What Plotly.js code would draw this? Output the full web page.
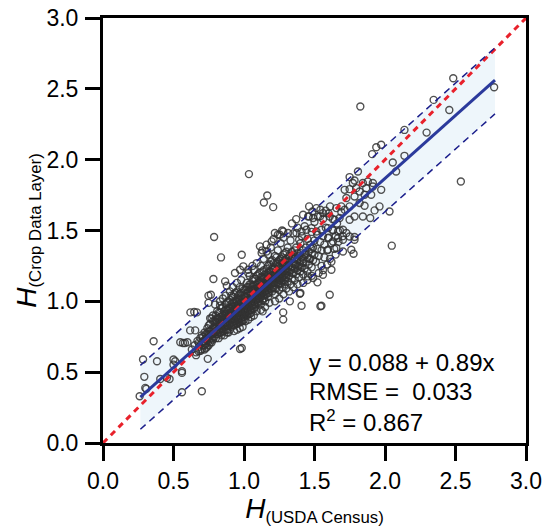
<!DOCTYPE html>
<html>
<head>
<meta charset="utf-8">
<script src="https://cdn.plot.ly/plotly-3.0.1.min.js"></script>
<style>html,body{margin:0;padding:0;background:#fff;}#chart{width:547px;height:527px;}</style>
</head>
<body>
<div id="chart"></div>
<script>
// ---- data ----
// 1:1 reference line
const oneToOneX = [0, 3];
const oneToOneY = [0, 3];
// fitted regression line y = 0.088 + 0.89x (end points)
const fitX = [0.265, 2.78];
const fitY = [0.324, 2.562];
// prediction band (dashed lines)
const bandX = [0.265, 2.78];
const bandUpper = [0.548, 2.79];
const bandLower = [0.097, 2.323];
// scattered outlying points [H_census, H_cdl]
const outerPts = [
  [0.26,0.33],[0.284,0.589],[0.293,0.467],[0.307,0.382],[0.30,0.389],[0.359,0.718],[0.383,0.577],
  [0.406,0.452],[0.454,0.46],[0.472,0.452],[0.50,0.553],[0.50,0.589],[0.512,0.577],[0.548,0.711],
  [0.56,0.506],[0.56,0.495],[0.56,0.358],[0.567,0.706],[0.581,0.706],[0.599,0.711],[0.618,0.795],
  [0.654,0.795],[0.62,0.922],[0.647,0.925],[0.666,0.922],[0.677,0.647],[0.701,0.365],[0.743,0.594],
  [0.748,1.040],[0.748,0.989],[0.765,1.047],[0.795,0.977],[0.830,1.000],[0.783,1.158],[0.866,1.141],
  [0.878,1.110],[0.936,1.200],[0.972,1.223],[0.995,1.247],[1.030,1.223],[0.788,1.454],[0.837,1.310],
  [0.984,1.329],[1.113,1.388],[1.125,1.341],[1.160,1.352],[1.196,1.423],[1.219,1.482],[1.254,1.470],
  [1.278,1.493],[1.313,1.482],[1.372,1.482],[1.391,1.435],[1.035,1.898],[1.165,1.747],[1.141,1.698],
  [1.207,1.665],[0.984,0.671],[0.972,0.664],[1.132,0.929],[1.278,0.871],[1.278,0.922],[1.325,1.000],
  [1.408,0.969],[1.396,1.054],[1.400,1.059],[1.549,0.969],[1.542,0.965],[1.608,1.047],[1.454,1.176],
  [1.490,1.165],[1.521,1.134],[1.560,1.188],[1.620,1.223],[1.777,1.336],[2.048,1.393],
  [1.462,1.670],[1.485,1.634],[1.514,1.658],[1.542,1.646],[1.561,1.623],[1.655,1.658],[1.690,1.670],
  [1.714,1.646],[1.419,1.611],[1.455,1.599],[1.490,1.588],[1.525,1.599],[1.561,1.581],[1.608,1.599],
  [1.643,1.576],[1.678,1.588],[1.408,1.493],[1.443,1.505],[1.478,1.517],[1.514,1.493],[1.549,1.505],
  [1.596,1.517],[1.631,1.505],[1.667,1.493],[1.702,1.505],[1.726,1.482],[1.596,1.447],[1.631,1.423],
  [1.667,1.447],[1.702,1.435],[1.749,1.458],[1.784,1.435],[1.596,1.364],[1.655,1.376],[1.702,1.352],
  [1.761,1.364],[1.749,1.877],[1.808,1.916],[2.295,2.191],[2.138,2.210],[1.973,2.105],[1.938,2.088],
  [1.909,2.039],[2.138,2.027],[2.055,1.980],[2.079,1.916],[1.784,1.853],[1.843,1.835],[1.878,1.846],
  [1.914,1.835],[1.772,1.835],[1.714,1.787],[1.749,1.792],[1.796,1.799],[1.820,1.775],[1.867,1.799],
  [1.914,1.811],[1.973,1.787],[1.726,1.729],[1.784,1.740],[1.855,1.752],[1.902,1.752],[1.749,1.670],
  [1.820,1.694],[1.855,1.675],[1.961,1.670],[2.032,1.634],[1.926,1.642],[1.895,1.588],[1.784,1.599],
  [1.749,1.576],[1.843,1.599],[1.784,1.454],[2.484,2.575],[2.345,2.422],[2.456,2.351],[2.774,2.511],
  [1.825,2.375],[2.538,1.846]
];
// dense core of points [H_census, H_cdl]
const corePts = [
  [0.63,0.66],[0.65,0.69],[0.66,0.64],[0.67,0.72],[0.68,0.68],[0.69,0.74],[0.70,0.66],[0.70,0.71],[0.66,0.62],
  [0.71,0.69],[0.71,0.75],[0.72,0.72],[0.72,0.78],[0.73,0.70],[0.73,0.74],[0.74,0.77],[0.74,0.81],[0.75,0.72],
  [0.75,0.76],[0.76,0.79],[0.76,0.84],[0.77,0.74],[0.77,0.80],[0.78,0.77],[0.78,0.86],[0.79,0.82],[0.79,0.75],
  [0.80,0.79],[0.80,0.85],[0.72,0.66],[0.74,0.68],[0.76,0.71],[0.78,0.73],[0.80,0.90],[0.77,0.88],[0.75,0.83],
  [0.81,0.77],[0.81,0.82],[0.81,0.88],[0.82,0.80],[0.82,0.85],[0.82,0.92],[0.83,0.78],[0.83,0.83],[0.83,0.89],
  [0.84,0.81],[0.84,0.86],[0.84,0.95],[0.85,0.79],[0.85,0.84],[0.85,0.90],[0.86,0.82],[0.86,0.87],[0.86,0.93],
  [0.87,0.80],[0.87,0.85],[0.87,0.91],[0.87,0.98],[0.88,0.83],[0.88,0.88],[0.88,0.94],[0.89,0.78],[0.89,0.86],
  [0.89,0.91],[0.89,1.00],[0.90,0.84],[0.90,0.89],[0.90,0.95],[0.82,0.74],[0.84,0.76],[0.86,0.76],[0.88,0.80],
  [0.83,0.97],[0.85,1.02],[0.87,1.04],
  [0.91,0.82],[0.91,0.87],[0.91,0.92],[0.91,0.98],[0.92,0.85],[0.92,0.90],[0.92,0.96],[0.92,1.03],[0.93,0.83],
  [0.93,0.88],[0.93,0.93],[0.93,0.99],[0.94,0.86],[0.94,0.91],[0.94,0.97],[0.94,1.06],[0.95,0.84],[0.95,0.89],
  [0.95,0.94],[0.95,1.00],[0.96,0.87],[0.96,0.92],[0.96,0.98],[0.96,1.04],[0.97,0.85],[0.97,0.90],[0.97,0.95],
  [0.97,1.01],[0.97,1.10],[0.98,0.88],[0.98,0.93],[0.98,0.99],[0.98,1.06],[0.99,0.86],[0.99,0.91],[0.99,0.96],
  [0.99,1.02],[1.00,0.89],[1.00,0.94],[1.00,1.00],[1.00,1.08],[0.93,0.79],[0.95,0.80],[0.97,0.81],[0.99,0.82],
  [0.92,1.10],[0.95,1.13],[0.98,1.15],[0.90,1.07],
  [1.01,0.92],[1.01,0.97],[1.01,1.03],[1.02,0.90],[1.02,0.95],[1.02,1.00],[1.02,1.06],[1.02,1.13],[1.03,0.93],
  [1.03,0.98],[1.03,1.04],[1.03,1.10],[1.04,0.91],[1.04,0.96],[1.04,1.01],[1.04,1.07],[1.04,1.18],[1.05,0.94],
  [1.05,0.99],[1.05,1.05],[1.05,1.12],[1.06,0.97],[1.06,1.02],[1.06,1.08],[1.06,1.15],[1.07,0.95],[1.07,1.00],
  [1.07,1.05],[1.07,1.11],[1.07,1.22],[1.08,0.98],[1.08,1.03],[1.08,1.09],[1.08,1.16],[1.09,1.01],[1.09,1.06],
  [1.09,1.12],[1.10,0.99],[1.10,1.04],[1.10,1.10],[1.10,1.19],[1.01,0.86],[1.03,0.87],[1.05,0.89],[1.07,0.90],
  [1.09,0.93],[1.03,1.20],[1.06,1.25],[1.09,1.27],
  [1.11,1.02],[1.11,1.07],[1.11,1.14],[1.12,0.98],[1.12,1.05],[1.12,1.10],[1.12,1.17],[1.12,1.25],[1.13,1.01],
  [1.13,1.08],[1.13,1.13],[1.13,1.21],[1.14,1.04],[1.14,1.10],[1.14,1.16],[1.14,1.30],[1.15,1.00],[1.15,1.07],
  [1.15,1.12],[1.15,1.19],[1.16,1.05],[1.16,1.10],[1.16,1.15],[1.16,1.23],[1.17,1.03],[1.17,1.08],[1.17,1.14],
  [1.17,1.20],[1.17,1.33],[1.18,1.06],[1.18,1.12],[1.18,1.17],[1.18,1.26],[1.19,1.09],[1.19,1.15],[1.19,1.21],
  [1.20,1.07],[1.20,1.13],[1.20,1.18],[1.20,1.29],[1.12,0.94],[1.15,0.96],[1.18,0.99],[1.13,1.36],[1.16,1.40],
  [1.19,1.38],
  [1.21,1.10],[1.21,1.16],[1.21,1.23],[1.22,1.05],[1.22,1.13],[1.22,1.19],[1.22,1.32],[1.23,1.09],[1.23,1.16],
  [1.23,1.22],[1.23,1.27],[1.24,1.12],[1.24,1.18],[1.24,1.25],[1.24,1.36],[1.25,1.08],[1.25,1.15],[1.25,1.21],
  [1.25,1.29],[1.26,1.13],[1.26,1.19],[1.26,1.24],[1.26,1.41],[1.27,1.10],[1.27,1.17],[1.27,1.23],[1.27,1.31],
  [1.28,1.15],[1.28,1.21],[1.28,1.27],[1.28,1.45],[1.29,1.12],[1.29,1.19],[1.29,1.25],[1.29,1.34],[1.30,1.17],
  [1.30,1.23],[1.30,1.30],[1.22,1.00],[1.25,1.02],[1.28,1.05],[1.30,1.09],[1.21,1.44],[1.24,1.47],[1.27,1.50],
  [1.31,1.14],[1.31,1.21],[1.31,1.28],[1.31,1.38],[1.32,1.18],[1.32,1.25],[1.32,1.32],[1.33,1.12],[1.33,1.22],
  [1.33,1.29],[1.33,1.43],[1.34,1.16],[1.34,1.24],[1.34,1.35],[1.35,1.20],[1.35,1.27],[1.35,1.33],[1.35,1.48],
  [1.36,1.15],[1.36,1.23],[1.36,1.30],[1.37,1.19],[1.37,1.26],[1.37,1.38],[1.38,1.22],[1.38,1.29],[1.38,1.34],
  [1.38,1.52],[1.39,1.17],[1.39,1.25],[1.39,1.32],[1.40,1.21],[1.40,1.28],[1.40,1.41],[1.32,1.07],[1.35,1.10],
  [1.38,1.12],[1.34,1.55],[1.37,1.58],
  [1.41,1.24],[1.41,1.31],[1.41,1.46],[1.42,1.19],[1.42,1.27],[1.42,1.36],[1.43,1.23],[1.43,1.33],[1.43,1.53],
  [1.44,1.28],[1.44,1.38],[1.45,1.21],[1.45,1.31],[1.45,1.44],[1.46,1.26],[1.46,1.35],[1.46,1.60],[1.47,1.30],
  [1.47,1.40],[1.48,1.24],[1.48,1.34],[1.48,1.49],[1.49,1.29],[1.49,1.38],[1.50,1.33],[1.50,1.43],[1.42,1.13],
  [1.45,1.15],[1.48,1.18],[1.50,1.56],
  [1.51,1.28],[1.52,1.37],[1.52,1.47],[1.53,1.32],[1.54,1.42],[1.54,1.60],[1.55,1.25],[1.55,1.36],[1.56,1.46],
  [1.57,1.31],[1.57,1.40],[1.58,1.52],[1.59,1.36],[1.60,1.45],[1.60,1.62],[1.61,1.30],[1.62,1.41],[1.63,1.50],
  [1.63,1.58],[1.64,1.37],[1.65,1.46],[1.66,1.55],[1.67,1.42],[1.68,1.50],[1.69,1.63],[1.70,1.46],[1.53,1.20],
  [1.56,1.22],[1.59,1.26],[1.62,1.28],[1.65,1.33],[1.58,1.64],[1.61,1.67]
];
// additional points in the darkest part of the cloud
const densePts = [
  [0.68,0.71],[0.69,0.65],[0.70,0.76],[0.71,0.72],[0.72,0.69],[0.73,0.77],[0.73,0.67],[0.74,0.73],[0.75,0.79],
  [0.75,0.69],[0.76,0.75],[0.76,0.88],[0.77,0.71],[0.77,0.77],[0.78,0.81],[0.78,0.90],[0.79,0.78],[0.79,0.86],
  [0.80,0.74],[0.80,0.82],[0.80,0.87],[0.81,0.79],[0.81,0.85],[0.81,0.93],[0.82,0.77],[0.82,0.83],[0.82,0.88],
  [0.83,0.80],[0.83,0.86],[0.83,0.92],[0.84,0.78],[0.84,0.84],[0.84,0.89],[0.85,0.81],[0.85,0.87],[0.85,0.96],
  [0.86,0.79],[0.86,0.85],[0.86,0.90],[0.87,0.83],[0.87,0.88],[0.87,0.94],[0.88,0.78],[0.88,0.85],[0.88,0.91],
  [0.88,0.99],[0.89,0.83],[0.89,0.89],[0.89,0.95],[0.90,0.80],[0.90,0.87],[0.90,0.92],[0.90,1.01],[0.91,0.85],
  [0.91,0.90],[0.91,0.95],[0.91,1.04],[0.92,0.83],[0.92,0.88],[0.92,0.93],[0.92,0.99],[0.93,0.86],[0.93,0.91],
  [0.93,0.96],[0.93,1.05],[0.94,0.84],[0.94,0.89],[0.94,0.94],[0.94,1.00],[0.95,0.87],[0.95,0.92],[0.95,0.97],
  [0.95,1.07],[0.96,0.85],[0.96,0.90],[0.96,0.95],[0.96,1.01],[0.97,0.88],[0.97,0.93],[0.97,0.98],[0.97,1.05],
  [0.98,0.86],[0.98,0.91],[0.98,0.96],[0.98,1.02],[0.99,0.89],[0.99,0.94],[0.99,0.99],[0.99,1.09],[1.00,0.87],
  [1.00,0.92],[1.00,0.97],[1.00,1.04],[1.01,0.90],[1.01,0.95],[1.01,1.00],[1.01,1.08],[1.02,0.93],[1.02,0.98],
  [1.02,1.03],[1.02,1.10],[1.03,0.91],[1.03,0.96],[1.03,1.01],[1.03,1.07],[1.04,0.94],[1.04,0.99],[1.04,1.04],
  [1.04,1.12],[1.05,0.92],[1.05,0.97],[1.05,1.02],[1.05,1.08],[1.06,0.95],[1.06,1.00],[1.06,1.05],[1.06,1.11],
  [1.07,0.98],[1.07,1.03],[1.07,1.08],[1.07,1.16],[1.08,0.96],[1.08,1.01],[1.08,1.06],[1.08,1.12],[1.09,0.99],
  [1.09,1.04],[1.09,1.09],[1.09,1.18],[1.10,1.02],[1.10,1.07],[1.10,1.13],[1.11,1.00],[1.11,1.05],[1.11,1.10],
  [1.11,1.20],[1.12,1.03],[1.12,1.08],[1.12,1.14],[1.13,1.05],[1.13,1.11],[1.13,1.17],[1.14,1.02],[1.14,1.07],
  [1.14,1.13],[1.14,1.22],[1.15,1.05],[1.15,1.10],[1.15,1.16],[1.16,1.08],[1.16,1.13],[1.16,1.19],[1.17,1.06],
  [1.17,1.11],[1.17,1.17],[1.17,1.25],[1.18,1.09],[1.18,1.14],[1.18,1.21],[1.19,1.12],[1.19,1.18],[1.19,1.28],
  [1.20,1.10],[1.20,1.16],[1.20,1.23],[1.21,1.13],[1.21,1.19],[1.21,1.27],[1.22,1.09],[1.22,1.16],[1.22,1.23],
  [1.23,1.13],[1.23,1.19],[1.23,1.31],[1.24,1.15],[1.24,1.21],[1.24,1.28],[1.25,1.12],[1.25,1.18],[1.25,1.25],
  [1.26,1.16],[1.26,1.22],[1.26,1.30],[1.27,1.14],[1.27,1.20],[1.27,1.27],[1.28,1.18],[1.28,1.24],[1.28,1.33],
  [1.29,1.15],[1.29,1.22],[1.29,1.29],[1.30,1.20],[1.30,1.26],[1.30,1.35],[1.32,1.21],[1.32,1.28],[1.34,1.20],
  [1.34,1.30],[1.36,1.26],[1.36,1.36],[1.38,1.25],[1.38,1.31],[1.40,1.24],[1.40,1.34],[1.42,1.30],[1.44,1.33],
  [1.46,1.30],[1.48,1.37]
];
const statLines = ['y = 0.088 + 0.89x', 'RMSE =&nbsp; 0.033', 'R<sup>2</sup> = 0.867'];
const statY = [0.565, 0.366, 0.154];
const xTitle = '<span style="font-size:28px"><i>H</i></span><sub>(USDA Census)</sub>';
const yTitle = '<span style="font-size:28px"><i>H</i></span><sub>(Crop Data Layer)</sub>';

// ---- traces ----
const allPts = outerPts.concat(corePts, densePts);
const FONT = 'Liberation Sans, Arial, Helvetica, sans-serif';
const traces = [
  {x: bandX, y: bandLower, mode: 'lines', line: {width: 0}, hoverinfo: 'skip', showlegend: false},
  {x: bandX, y: bandUpper, mode: 'lines', line: {width: 0}, fill: 'tonexty', fillcolor: 'rgba(226,240,248,0.6)', hoverinfo: 'skip', showlegend: false},
  {x: allPts.map(p => p[0]), y: allPts.map(p => p[1]), mode: 'markers', type: 'scatter',
   marker: {symbol: 'circle-open', size: 7, color: 'rgba(50,50,50,0.85)', line: {width: 1.4}}, showlegend: false},
  {x: oneToOneX, y: oneToOneY, mode: 'lines', line: {color: '#e8212b', width: 3, dash: '6px,5px'}, showlegend: false},
  {x: fitX, y: fitY, mode: 'lines', line: {color: '#2b3a9c', width: 3}, showlegend: false},
  {x: bandX, y: bandUpper, mode: 'lines', line: {color: '#1c1f8c', width: 1.5, dash: '7px,5px'}, showlegend: false},
  {x: bandX, y: bandLower, mode: 'lines', line: {color: '#1c1f8c', width: 1.5, dash: '7px,5px'}, showlegend: false}
];

const axisCommon = {
  range: [0, 3], dtick: 0.5, tick0: 0, tickformat: '.1f', autorange: false,
  showgrid: false, zeroline: false, showline: true, linecolor: '#000', linewidth: 3, mirror: true,
  ticks: 'outside', ticklen: 15, tickwidth: 3, tickcolor: '#000',
  tickfont: {family: FONT, size: 23, color: '#000'}
};

const layout = {
  width: 547, height: 527,
  margin: {l: 103, r: 21, t: 18, b: 84},
  paper_bgcolor: '#fff', plot_bgcolor: '#fff',
  showlegend: false,
  xaxis: Object.assign({}, axisCommon, {ticklabelstandoff: 0,
    title: {text: xTitle, font: {family: FONT, size: 24, color: '#000'}, standoff: 0}}),
  yaxis: Object.assign({}, axisCommon, {ticklabelstandoff: 2,
    title: {text: yTitle, font: {family: FONT, size: 24, color: '#000'}, standoff: 4}}),
  annotations: statLines.map((t, i) => ({
    text: t, x: 1.45, y: statY[i], xref: 'x', yref: 'y', xanchor: 'left', yanchor: 'middle',
    showarrow: false, font: {family: FONT, size: 24, color: '#000'}
  }))
};

Plotly.newPlot('chart', traces, layout, {staticPlot: true, displayModeBar: false});
</script>
</body>
</html>
